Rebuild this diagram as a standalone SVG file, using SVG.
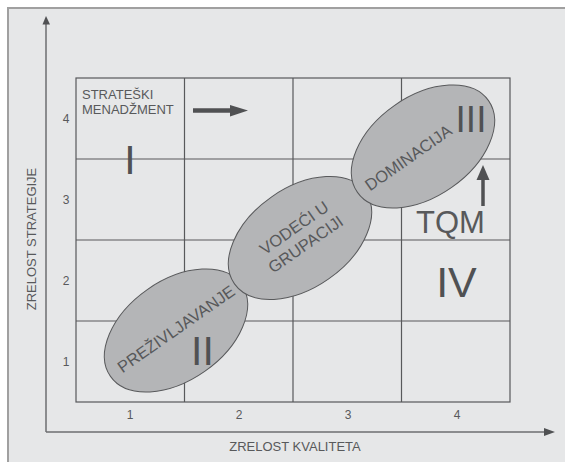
<svg xmlns="http://www.w3.org/2000/svg" width="565" height="462" viewBox="0 0 565 462">
<defs>
<style>
.t{font-family:"Liberation Sans",Arial,sans-serif;fill:#58595b}
.tick{font-size:12px;text-anchor:middle}
.ax{font-size:13px;text-anchor:middle}
.el{fill:#b4b5b7;stroke:#58595b;stroke-width:1}
.et{font-size:16.5px;text-anchor:middle}
.rn{font-family:"Liberation Sans",Arial,sans-serif;fill:#505153;text-anchor:middle}
.grid{fill:none;stroke:#58595b;stroke-width:1.2}
.axis{stroke:#6d6e70;stroke-width:1.5;fill:none}
.arr{stroke:#505153;fill:none}
</style>
</defs>
<rect x="0" y="0" width="565" height="462" fill="#ffffff"/>
<rect x="8" y="8" width="600" height="500" fill="#e6e7e8" stroke="#a0a0a0" stroke-width="2"/>

<g id="grid" class="grid">
<rect x="76" y="78" width="434" height="324"/>
<line x1="184.5" y1="78" x2="184.5" y2="402"/>
<line x1="293" y1="78" x2="293" y2="402"/>
<line x1="401.5" y1="78" x2="401.5" y2="402"/>
<line x1="76" y1="159" x2="510" y2="159"/>
<line x1="76" y1="240" x2="510" y2="240"/>
<line x1="76" y1="321" x2="510" y2="321"/>
</g>

<g id="ticks" class="t tick">
<text x="130" y="419">1</text>
<text x="239" y="419">2</text>
<text x="348" y="419">3</text>
<text x="457" y="419">4</text>
<text x="66" y="123">4</text>
<text x="66" y="204">3</text>
<text x="66" y="285">2</text>
<text x="66" y="366">1</text>
</g>

<g id="axis-labels" class="t ax">
<text x="295" y="451">ZRELOST KVALITETA</text>
<text transform="translate(36 239) rotate(-90)">ZRELOST STRATEGIJE</text>
</g>

<g id="connectors">
<line class="axis" x1="46" y1="432" x2="46" y2="24"/>
<polygon points="42.5,24.5 50,24.5 46,16" fill="#505153"/>
<line class="axis" x1="46" y1="432" x2="545" y2="432"/>
<polygon points="544,428 544,436 555,432" fill="#505153"/>
<line class="arr" x1="193" y1="110.5" x2="232" y2="110.5" stroke-width="4.5"/>
<polygon points="230,105 230,116.5 248,110.5" fill="#505153"/>
<line class="arr" x1="483" y1="206" x2="483" y2="178" stroke-width="3.5"/>
<polygon points="476.5,180 489.5,180 483,165" fill="#505153"/>
</g>

<g id="strateski">
<text class="t" x="82" y="99" font-size="13">STRATEŠKI</text>
<text class="t" x="82" y="113.5" font-size="13">MENADŽMENT</text>
</g>

<g id="n-I"><text class="rn" x="130" y="174" font-size="41">I</text></g>

<g id="n-prezivljavanje">
<ellipse class="el" cx="176" cy="330.5" rx="80" ry="50" transform="rotate(-35 176 330.5)"/>
<text class="t et" transform="translate(176 330.5) rotate(-35)" x="1" y="4.5">PREŽIVLJAVANJE</text>
<text class="rn" x="202.5" y="365" font-size="41">II</text>
</g>

<g id="n-vodeci">
<ellipse class="el" cx="300" cy="238" rx="80" ry="50" transform="rotate(-35 300 238)"/>
<g transform="translate(300 238) rotate(-35)">
<text class="t et" x="1" y="-6">VODEĆI U</text>
<text class="t et" x="1" y="14">GRUPACIJI</text>
</g>
</g>

<g id="n-dominacija">
<ellipse class="el" cx="423" cy="146.5" rx="80" ry="50" transform="rotate(-35 423 146.5)"/>
<text class="t et" transform="translate(423 146.5) rotate(-35)" x="-18.5" y="6.5">DOMINACIJA</text>
<text class="rn" x="471" y="132" font-size="37">III</text>
</g>

<g id="n-tqm"><text class="t" x="450.5" y="233" font-size="31" text-anchor="middle">TQM</text></g>

<g id="n-IV"><text class="rn" x="456.5" y="297" font-size="43">IV</text></g>
</svg>
